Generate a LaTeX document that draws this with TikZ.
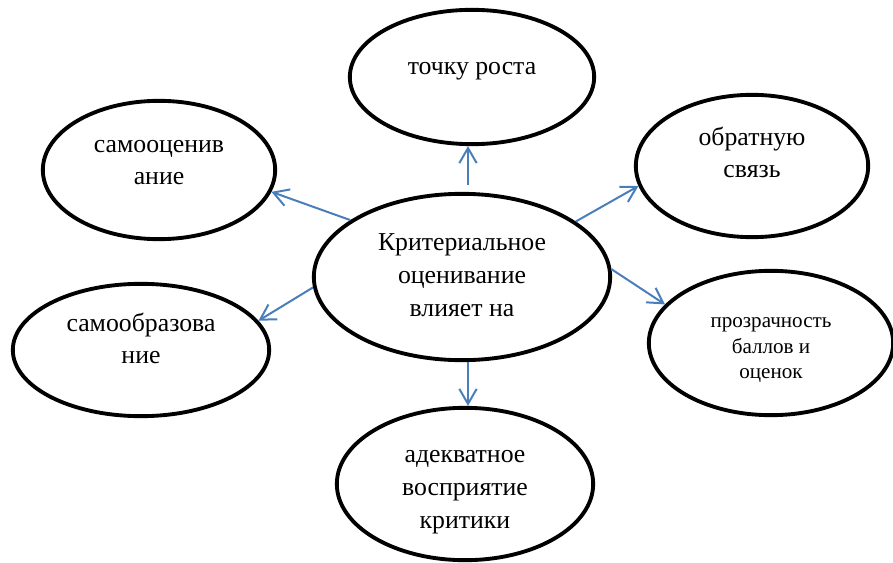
\documentclass[tikz,border=0pt]{standalone}
\usepackage{fontspec}
\setmainfont{Liberation Serif}
\newfontfamily\timesfont{Liberation Serif}
\usepackage{xcolor}
\usetikzlibrary{shapes.geometric, arrows.meta, calc}
\definecolor{arrowblue}{RGB}{74, 126, 187}
\tikzstyle{oval} = [ellipse, draw=black, line width=3.3pt, inner sep=0pt, font=\timesfont\fontsize{22}{28}\selectfont]
\tikzstyle{arrow} = [draw=arrowblue, line width=1.7pt, -{Straight Barb[length=0.45cm, width=0.52cm]}]
\newcommand{\lift}[2]{\raisebox{#1}[\height][\depth]{\begin{tabular}{@{}c@{}}#2\end{tabular}}}
\begin{document}
\begin{tikzpicture}[x=0.03cm, y=-0.03cm]
    \useasboundingbox (0,0) rectangle (893,563);

    % Central node
    \node[oval, minimum width=8.89cm, minimum height=4.99cm] (crit) at (462,277) {\lift{0pt}{Критериальное\\оценивание\\влияет на}};

    % Surrounding nodes
    \node[oval, minimum width=7.33cm, minimum height=4.03cm] (growth) at (472,77) {\lift{0.27cm}{точку роста}};
    \node[oval, minimum width=6.97cm, minimum height=4.15cm] (selfassess) at (159,170) {\lift{0.24cm}{самооценив\\ание}};
    \node[oval, minimum width=6.97cm, minimum height=4.27cm] (feedback) at (752,166) {\lift{0.33cm}{обратную\\связь}};
    \node[oval, minimum width=7.69cm, minimum height=3.97cm] (selfedu) at (141,350) {\lift{0.27cm}{самообразова\\ние}};
    \node[oval, minimum width=7.33cm, minimum height=4.33cm, font=\timesfont\fontsize{18}{22}\selectfont] (transp) at (771,343) {\lift{-0.15cm}{прозрачность\\баллов и\\оценок}};
    \node[oval, minimum width=7.69cm, minimum height=4.57cm] (critique) at (465,484) {\lift{-0.15cm}{адекватное\\восприятие\\критики}};

    % Arrows
    \draw[arrow, shorten <=0.2cm] ([xshift=0.18cm]crit.north) -- ([xshift=0.18cm]crit.north |- growth.south);
    \draw[arrow] (crit.153) -- (selfassess.-11);
    \draw[arrow] (crit.26) -- (feedback.190);
    \draw[arrow] (crit.3) -- (transp.160);
    \draw[arrow] (crit.184) -- (selfedu.14);
    \draw[arrow] ([xshift=0.18cm]crit.south) -- ([xshift=0.18cm]crit.south |- critique.north);
\end{tikzpicture}
\end{document}
